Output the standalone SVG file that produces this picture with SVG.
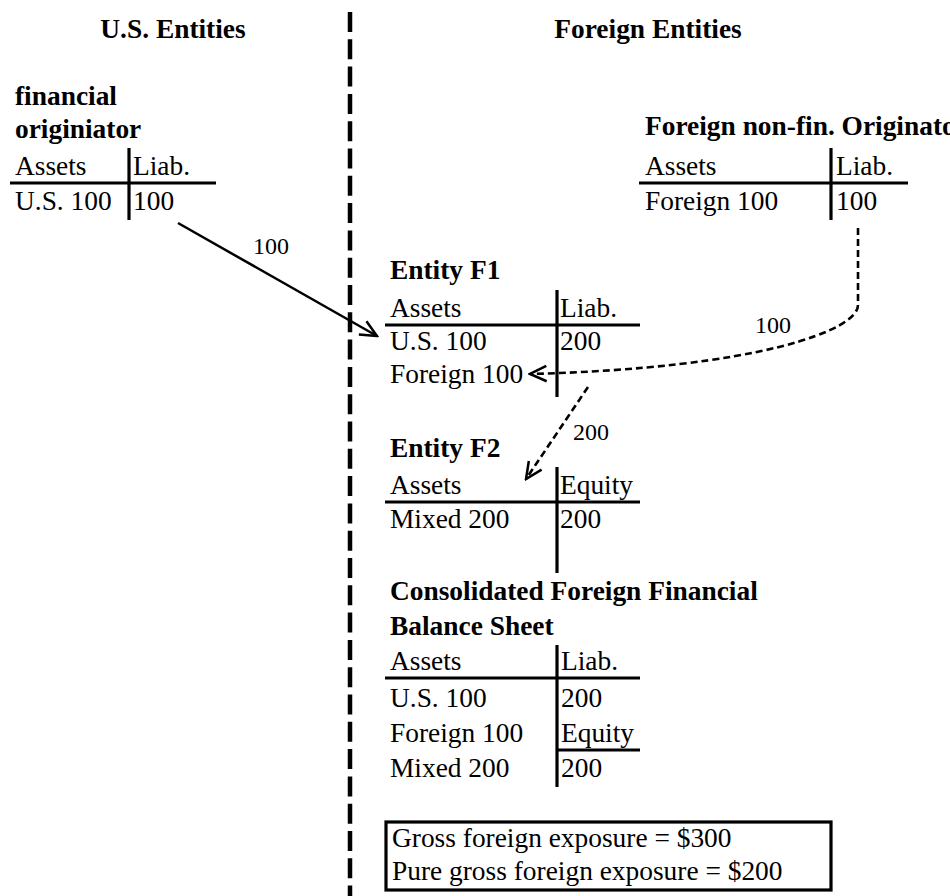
<svg xmlns="http://www.w3.org/2000/svg" width="950" height="896" viewBox="0 0 950 896">
<defs>
<style>
text{font-family:"Liberation Serif","Times New Roman",serif;font-size:27.4px;fill:#000}
.b{font-weight:bold}
.lbl{font-size:24px}
.rule{stroke:#000;stroke-width:3.2;fill:none}
.solid{stroke:#000;stroke-width:2.5;fill:none}
.dash{stroke:#000;stroke-width:2.6;fill:none;stroke-dasharray:7 4}
</style>
<marker id="ah" markerUnits="userSpaceOnUse" viewBox="-20 -10 22 20" refX="0" refY="0" markerWidth="22" markerHeight="20" orient="auto">
<path d="M-16.5,-7.7 L0,0 L-16.5,7.7" fill="none" stroke="#000" stroke-width="2.5" stroke-dasharray="none"/>
</marker>
</defs>
<rect width="950" height="896" fill="#fff"/>

<g id="divider">
<line x1="350" y1="12" x2="350" y2="896" stroke="#000" stroke-width="4.5" stroke-dasharray="20 7.3"/>
</g>

<g id="headers">
<text class="b" x="173" y="38" text-anchor="middle">U.S. Entities</text>
<text class="b" x="648" y="38" text-anchor="middle">Foreign Entities</text>
</g>

<g id="financial-originator">
<text class="b" x="15" y="105">financial</text>
<text class="b" x="15" y="138">originiator</text>
<text x="15" y="175">Assets</text>
<text x="133" y="175">Liab.</text>
<line class="rule" x1="10" y1="183" x2="216" y2="183"/>
<line class="rule" x1="129" y1="148" x2="129" y2="220"/>
<text x="15" y="210">U.S. 100</text>
<text x="133" y="210">100</text>
</g>

<g id="foreign-nonfin-originator">
<text class="b" x="645" y="135">Foreign non-fin. Originator</text>
<text x="645" y="175">Assets</text>
<text x="836" y="175">Liab.</text>
<line class="rule" x1="639" y1="183" x2="908" y2="183"/>
<line class="rule" x1="831" y1="148" x2="831" y2="220"/>
<text x="645" y="210">Foreign 100</text>
<text x="836" y="210">100</text>
</g>

<g id="entity-f1">
<text class="b" x="390" y="279">Entity F1</text>
<text x="390" y="317">Assets</text>
<text x="560" y="317">Liab.</text>
<line class="rule" x1="385" y1="325" x2="640" y2="325"/>
<line class="rule" x1="557" y1="290" x2="557" y2="397"/>
<text x="390" y="350">U.S. 100</text>
<text x="560" y="350">200</text>
<text x="390" y="383">Foreign 100</text>
</g>

<g id="entity-f2">
<text class="b" x="390" y="457">Entity F2</text>
<text x="390" y="494">Assets</text>
<text x="560" y="494">Equity</text>
<line class="rule" x1="385" y1="502" x2="640" y2="502"/>
<line class="rule" x1="557" y1="467" x2="557" y2="573"/>
<text x="390" y="528">Mixed 200</text>
<text x="560" y="528">200</text>
</g>

<g id="consolidated">
<text class="b" x="390" y="600">Consolidated Foreign Financial</text>
<text class="b" x="390" y="635">Balance Sheet</text>
<text x="390" y="670">Assets</text>
<text x="561" y="670">Liab.</text>
<line class="rule" x1="385" y1="678" x2="640" y2="678"/>
<line class="rule" x1="557" y1="645" x2="557" y2="787"/>
<text x="390" y="707">U.S. 100</text>
<text x="561" y="707">200</text>
<text x="390" y="742">Foreign 100</text>
<text x="561" y="742">Equity</text>
<line class="rule" x1="557" y1="750" x2="640" y2="750"/>
<text x="390" y="777">Mixed 200</text>
<text x="561" y="777">200</text>
</g>

<g id="exposure-box">
<rect x="386" y="822" width="445" height="68" fill="none" stroke="#000" stroke-width="3.2"/>
<text x="392" y="847">Gross foreign exposure = $300</text>
<text x="392" y="880">Pure gross foreign exposure = $200</text>
</g>

<g id="connectors">
<line class="solid" x1="178" y1="223" x2="377" y2="336" marker-end="url(#ah)"/>
<text class="lbl" x="253" y="254">100</text>
<path class="dash" d="M858,228 L858,305 C858,330 760,368 530,374" marker-end="url(#ah)"/>
<text class="lbl" x="755" y="333">100</text>
<line class="dash" x1="588" y1="387" x2="526" y2="479" marker-end="url(#ah)"/>
<text class="lbl" x="573" y="440">200</text>
</g>
</svg>
